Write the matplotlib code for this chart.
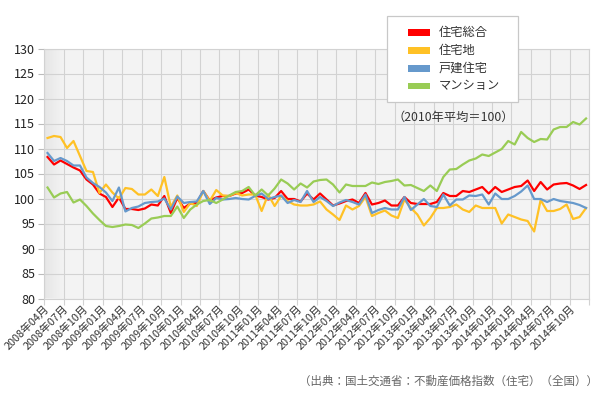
import matplotlib
matplotlib.use('Agg')
import matplotlib.pyplot as plt
from matplotlib.patches import Rectangle
import numpy as np

plt.rcParams['font.family'] = ['Noto Sans CJK JP', 'DejaVu Sans']

# 2008年04月 から 84ヶ月分 (2010年平均=100)
sogo = [108.3, 106.8, 107.6, 106.9, 106.2, 105.6, 103.8, 102.8, 101.0, 100.3,
        98.3, 100.2, 97.9, 97.9, 97.7, 98.0, 98.8, 98.6, 100.5, 97.1,
        100.1, 98.1, 99.0, 99.1, 101.5, 99.6, 100.2, 100.5, 100.5, 101.0,
        101.1, 101.8, 100.6, 100.3, 99.8, 100.1, 101.5, 99.9, 99.9, 99.4,
        101.0, 99.8, 101.0, 99.8, 98.6, 99.0, 99.5, 99.8, 99.1, 101.1,
        98.8, 99.1, 99.6, 98.6, 98.6, 100.3, 99.1, 98.9, 98.9, 98.9,
        99.3, 101.1, 100.5, 100.5, 101.5, 101.3, 101.8, 102.3, 101.0, 102.3,
        101.3, 101.8, 102.3, 102.5, 103.6, 101.5, 103.3, 101.8, 102.8, 103.0,
        103.1, 102.6, 101.9, 102.7]
jutakuchi = [112.1, 112.5, 112.3, 110.1, 111.5, 108.5, 105.5, 105.3, 101.1, 102.8,
             101.2, 100.0, 102.1, 101.9, 100.8, 100.8, 101.8, 100.5, 104.3, 98.3,
             100.6, 97.3, 99.1, 98.5, 101.5, 99.5, 101.7, 100.6, 100.5, 101.1,
             100.6, 100.8, 100.8, 97.5, 100.8, 98.5, 100.5, 99.5, 98.8, 98.6,
             98.6, 98.8, 99.4, 97.8, 96.8, 95.7, 98.6, 97.8, 98.5, 100.3,
             96.5, 97.1, 97.6, 96.6, 96.1, 99.8, 98.1, 96.8, 94.6, 96.1,
             98.1, 98.1, 98.3, 98.8, 97.8, 97.3, 98.6, 98.1, 98.1, 98.1,
             95.0, 96.8, 96.3, 95.8, 95.5, 93.4, 99.7, 97.5, 97.5, 97.9,
             98.8, 95.9, 96.3, 98.1]
kodate = [109.1, 107.5, 108.1, 107.5, 106.6, 106.6, 104.2, 103.1, 102.3, 101.2,
          99.5, 102.2, 97.4, 98.1, 98.4, 99.1, 99.3, 99.4, 100.0, 97.8,
          100.4, 99.1, 99.3, 99.4, 101.5, 98.9, 100.1, 99.8, 99.9, 100.1,
          99.9, 99.8, 100.5, 101.0, 99.9, 100.3, 100.6, 99.1, 99.7, 99.3,
          101.5, 99.3, 100.3, 99.5, 98.5, 99.2, 99.7, 99.3, 98.8, 100.8,
          97.1, 97.7, 98.1, 97.8, 97.8, 100.3, 97.7, 98.8, 99.9, 98.5,
          98.3, 100.8, 98.6, 99.8, 99.8, 100.6, 100.5, 100.8, 98.8, 101.0,
          99.9, 99.9, 100.5, 101.4, 102.6, 99.9, 99.9, 99.3, 99.9, 99.5,
          99.3, 99.1, 98.7, 98.1]
mansion = [102.2, 100.2, 101.0, 101.3, 99.2, 99.8, 98.5, 97.0, 95.7, 94.5,
           94.3, 94.5, 94.8, 94.7, 94.1, 95.0, 96.0, 96.2, 96.5, 96.5,
           98.4, 96.1, 97.8, 98.8, 99.5, 99.7, 99.1, 99.8, 100.6, 101.3,
           101.5, 102.3, 100.6, 101.8, 100.6, 102.0, 103.8, 103.0, 101.8, 103.0,
           102.2, 103.4, 103.7, 103.8, 102.8, 101.2, 102.8, 102.5, 102.5, 102.5,
           103.2, 102.9, 103.3, 103.5, 103.8, 102.6, 102.7, 102.1, 101.5, 102.6,
           101.5, 104.3, 105.8, 105.9, 106.8, 107.6, 108.0, 108.8, 108.5, 109.2,
           109.9, 111.5, 110.8, 113.3, 112.1, 111.3, 111.9, 111.8, 113.8, 114.3,
           114.3, 115.3, 114.8, 116.0]

series_names = ['住宅総合', '住宅地', '戸建住宅', 'マンション']
series_colors = ['#ff0000', '#ffc125', '#6699cc', '#99cc55']

tick_labels = ['2008年04月', '2008年07月', '2008年10月',
               '2009年01月', '2009年04月', '2009年07月', '2009年10月',
               '2010年01月', '2010年04月', '2010年07月', '2010年10月',
               '2011年01月', '2011年04月', '2011年07月', '2011年10月',
               '2012年01月', '2012年04月', '2012年07月', '2012年10月',
               '2013年01月', '2013年04月', '2013年07月', '2013年10月',
               '2014年01月', '2014年01月', '2014年04月', '2014年07月', '2014年10月']

W, H = 610, 398


def fx(x):
    return x / W


def fy(y):
    return 1 - y / H


fig = plt.figure(figsize=(W / 100, H / 100), dpi=100)
ax = fig.add_axes([fx(44.3), fy(298.5), (589.3 - 44.3) / W, 250 / H])

grid_col = '#d2d2d2'
ax.set_facecolor('#f3f3f3')
# slight shading along the left edge
grad = np.linspace(0.9, 0.953, 64).reshape(1, -1)
ax.imshow(grad, cmap='gray', vmin=0, vmax=1, aspect='auto',
          extent=[0, 0.035, 0, 1], transform=ax.transAxes, zorder=0)

x = np.arange(len(sogo))
for vals, col in zip([sogo, jutakuchi, kodate, mansion], series_colors):
    ax.plot(x, vals, color=col, lw=1.6, zorder=3)

ax.set_xlim(-0.5, len(sogo) - 0.5)
ax.set_ylim(80, 130)
ax.set_yticks(np.arange(80, 131, 5))
ax.set_xticks(np.arange(0, len(tick_labels) * 3, 3))
ax.set_xticklabels(tick_labels, rotation=45, ha='right', va='center',
                   rotation_mode='anchor', fontsize=7.8, color='#333333')
ax.set_xticks(np.arange(-0.5, len(sogo), 3), minor=True)
ax.tick_params(axis='x', which='major', length=0, pad=6)
ax.tick_params(axis='x', which='minor', length=4, color=grid_col, width=0.8)
ax.tick_params(axis='y', length=4.5, color='#bbbbbb', width=0.8, pad=2,
               labelsize=9, labelcolor='#222222')

ax.grid(True, axis='y', color=grid_col, lw=0.8, zorder=1)
ax.grid(True, axis='x', which='minor', color=grid_col, lw=0.8, zorder=1)
ax.set_axisbelow(True)
for s in ax.spines.values():
    s.set_color(grid_col)
    s.set_linewidth(0.8)

# legend box
fig.patches.append(Rectangle((fx(386.5), fy(101.7)), (518.3 - 386.5) / W, (101.7 - 16) / H,
                             transform=fig.transFigure, facecolor='white',
                             edgecolor='#c8c8c8', lw=0.9, zorder=5))
rows = [32.5, 50.3, 68.5, 86.0]
for name, col, ry in zip(series_names, series_colors, rows):
    fig.patches.append(Rectangle((fx(408), fy(ry + 3.3)), 22 / W, 6.6 / H,
                                 transform=fig.transFigure, facecolor=col,
                                 edgecolor='none', zorder=6))
    fig.text(fx(439), fy(ry), name, ha='left', va='center', fontsize=8.8,
             color='#333333', zorder=6)

fig.text(fx(453), fy(117.5), '（2010年平均＝100）', ha='center', va='center',
         fontsize=8.8, color='#333333')
fig.text(fx(598), fy(381), '（出典：国土交通省：不動産価格指数（住宅）（全国））',
         ha='right', va='center', fontsize=8.3, color='#666666')

fig.savefig('out.png', dpi=100)
